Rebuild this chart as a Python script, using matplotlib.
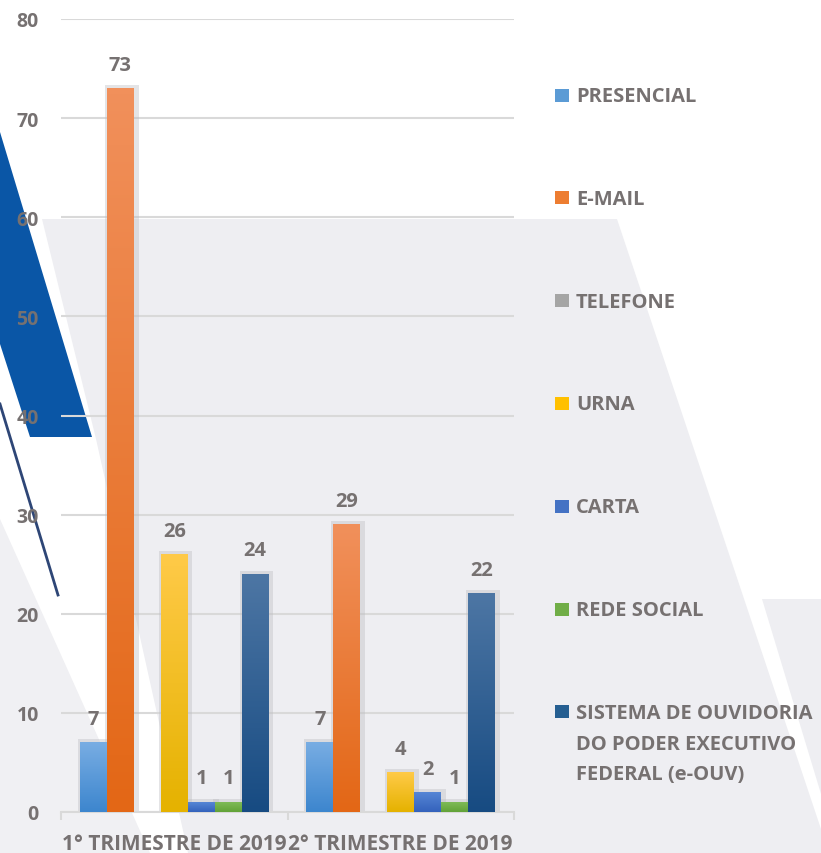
import numpy as np
import matplotlib
matplotlib.use("Agg")
import matplotlib.pyplot as plt
from matplotlib.patches import Polygon, Rectangle
from matplotlib.lines import Line2D
from matplotlib.colors import LinearSegmentedColormap

# data
groups = ["1° TRIMESTRE DE 2019", "2° TRIMESTRE DE 2019"]
series = ["PRESENCIAL", "E-MAIL", "TELEFONE", "URNA", "CARTA", "REDE SOCIAL",
          "SISTEMA DE OUVIDORIA\nDO PODER EXECUTIVO\nFEDERAL (e-OUV)"]
values = [
    [7, 7],     # PRESENCIAL
    [73, 29],   # E-MAIL
    [0, 0],     # TELEFONE
    [26, 4],    # URNA
    [1, 2],     # CARTA
    [1, 1],     # REDE SOCIAL
    [24, 22],   # e-OUV
]
yticks = [0, 10, 20, 30, 40, 50, 60, 70, 80]

base_colors = ["#5B9BD5", "#ED7D31", "#A5A5A5", "#FFC000", "#4472C4", "#70AD47", "#255E91"]
# (top, bottom) of the gradient on each bar
grad_colors = [("#78ADE3", "#3D86CE"), ("#F1905B", "#E36716"), ("#B8B8B8", "#979797"),
               ("#FFCA48", "#E5B200"), ("#5686D5", "#3462BC"), ("#7EBB57", "#62A238"),
               ("#4D76A4", "#174B82")]
text_col = "#767171"

plt.rcParams['font.family'] = ['Open Sans', 'DejaVu Sans']

W, H = 821, 854
fig = plt.figure(figsize=(W / 100, H / 100), dpi=100)
fig.patch.set_facecolor("white")


def px(pts):
    # pixel coords (origin top-left) -> figure fraction
    return [(x / W, 1 - y / H) for x, y in pts]


# background decoration
gray = "#EEEEF2"
fig.patches.append(Polygon(px([(42, 220), (617, 220), (821, 830), (821, 854), (188, 854), (96, 440)]),
                           closed=True, transform=fig.transFigure, fc=gray, ec="none", zorder=-10))
fig.patches.append(Polygon(px([(0, 520), (150, 854), (0, 854)]),
                           closed=True, transform=fig.transFigure, fc="#F0F0F3", ec="none", zorder=-10))
fig.patches.append(Polygon(px([(762, 600), (821, 600), (821, 795)]),
                           closed=True, transform=fig.transFigure, fc=gray, ec="none", zorder=-10))
fig.patches.append(Polygon(px([(0, 133), (92, 438), (30, 438), (0, 345)]),
                           closed=True, transform=fig.transFigure, fc="#0A56A6", ec="none", zorder=-9))
fig.lines.append(Line2D([0 / W, 58 / W], [1 - 405 / H, 1 - 596 / H],
                        transform=fig.transFigure, color="#2E4676", lw=2, zorder=-9))

ax = fig.add_axes([61 / W, 41 / H, 453 / W, 793 / H])
ax.set_facecolor("none")

n = len(series)
bw = 0.119
x = np.arange(len(groups))

for i in range(n):
    xs = x + (i - (n - 1) / 2) * bw
    for xi, v in zip(xs, values[i]):
        if v == 0:
            continue
        # soft shadow
        ax.bar(xi + 0.006, v + 0.35, width=bw + 0.03, color="#BDBDC2", alpha=0.4, zorder=1, lw=0)
        cmap = LinearSegmentedColormap.from_list("g", [grad_colors[i][1], grad_colors[i][0]])
        grad = np.linspace(0, 1, 100).reshape(-1, 1)
        ax.imshow(grad, extent=[xi - bw / 2, xi + bw / 2, 0, v], origin="lower",
                  cmap=cmap, aspect="auto", zorder=3, interpolation="bicubic")
        ax.annotate(str(v), (xi, v), xytext=(0, 17), textcoords="offset points",
                    ha="center", va="center", fontsize=14.5, fontweight="bold",
                    color=text_col, zorder=5)

ax.set_xlim(-0.5, 1.5)
ax.set_ylim(0, 80)
ax.set_yticks(yticks)
ax.set_yticklabels([str(t) for t in yticks], fontsize=14, fontweight="bold", color=text_col)
ax.tick_params(axis="y", length=0, pad=16)
ax.set_xticks(x)
ax.set_xticklabels(groups, fontsize=15, fontweight="bold", color=text_col)
ax.tick_params(axis="x", length=0, pad=15)
ax.set_xticks([-0.5, 0.5, 1.5], minor=True)
ax.tick_params(axis="x", which="minor", length=6, color="#D9D9D9", width=1.5)
ax.grid(axis="y", color="#D9D9D9", lw=1.5, zorder=0)
ax.set_axisbelow(True)
for s in ["top", "right", "left"]:
    ax.spines[s].set_visible(False)
ax.spines["bottom"].set_color("#D9D9D9")
ax.spines["bottom"].set_linewidth(1.5)

# legend on the right
y0, step = 96, 102.8
for i, name in enumerate(series):
    yc = y0 + i * step
    fig.patches.append(Rectangle((555 / W, 1 - (yc + 6.5) / H), 14 / W, 13 / H,
                                 transform=fig.transFigure, fc=base_colors[i], ec="none"))
    fig.text(576 / W, 1 - (yc - 9) / H, name, fontsize=14.5, fontweight="bold",
             color=text_col, ha="left", va="top", linespacing=1.72)

fig.savefig("out.png", dpi=100)
